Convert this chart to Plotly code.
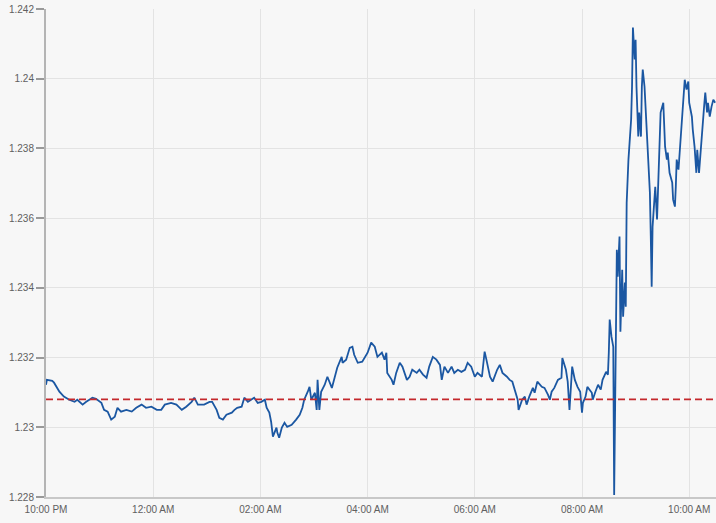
import pandas as pd
import plotly.graph_objects as go

# minutes after 10:00 PM and price readings
minutes = [0, 1, 7, 9, 15, 20, 26, 32, 35, 41, 45, 52, 56, 62, 65, 69, 73, 77, 80, 84,
           90, 96, 101, 107, 112, 118, 124, 129, 133, 140, 146, 152, 157, 163, 166, 170,
           177, 183, 186, 191, 194, 198, 202, 208, 211, 214, 219, 222, 226, 230, 233, 237,
           241, 245, 247, 250, 252, 254, 258, 259, 261, 264, 267, 270, 275, 280, 284, 287,
           289, 293, 295, 297, 301, 303, 304, 306, 308, 312, 315, 320, 323, 326, 331, 332,
           336, 340, 343, 345, 349, 354, 360, 364, 368, 371, 376, 379, 381, 382, 387, 389,
           392, 396, 399, 404, 407, 410, 415, 418, 422, 426, 429, 433, 437, 441, 443, 446,
           450, 454, 457, 461, 465, 469, 472, 476, 480, 483, 488, 491, 493, 497, 500, 505,
           508, 511, 516, 519, 522, 525, 528, 529, 533, 536, 538, 541, 545, 547, 550, 555,
           558, 562, 564, 566, 569, 573, 577, 578, 582, 584, 586, 589, 592, 595, 598, 600,
           601, 604, 606, 611, 612, 615, 618, 621, 623, 627, 629, 630, 631, 633, 635, 636,
           638, 639, 640, 642, 643, 645, 646, 648, 649, 650, 652, 655, 656, 657, 659, 660,
           661, 663, 664, 666, 667, 668, 670, 673, 674, 676, 677, 678, 679, 682, 684, 685,
           687, 688, 691, 692, 693, 695, 696, 698, 701, 702, 704, 705, 706, 708, 711, 713,
           714, 715, 717, 719, 720, 723, 724, 726, 728, 729, 731, 733, 735, 737, 738, 740,
           741, 743, 745, 747, 749]
prices = [1.23122, 1.23136, 1.23133, 1.23128, 1.23102, 1.23088, 1.23079, 1.23073, 1.23079, 1.23065,
          1.23073, 1.23085, 1.23082, 1.23070, 1.23050, 1.23045, 1.23022, 1.23030, 1.23056, 1.23045,
          1.23050, 1.23045, 1.23056, 1.23065, 1.23056, 1.23059, 1.23050, 1.23050, 1.23065, 1.23070,
          1.23065, 1.23050, 1.23059, 1.23073, 1.23085, 1.23065,
          1.23065, 1.23073, 1.23073, 1.23050, 1.23027, 1.23022, 1.23036, 1.23042, 1.23050, 1.23056,
          1.23059, 1.23085, 1.23073, 1.23079, 1.23085, 1.23070,
          1.23073, 1.23079, 1.23056, 1.23042, 1.23016, 1.22973, 1.22999, 1.22984, 1.22970, 1.22999,
          1.23013, 1.23001, 1.23007, 1.23022, 1.23036, 1.23056,
          1.23079, 1.23102, 1.23116, 1.23079, 1.23099, 1.23050, 1.23136, 1.23050, 1.23102, 1.23122,
          1.23145, 1.23113, 1.23145, 1.23171, 1.23202, 1.23185,
          1.23194, 1.23228, 1.23231, 1.23208, 1.23185, 1.23188, 1.23214, 1.23243, 1.23231, 1.23202,
          1.23214, 1.23194, 1.23214, 1.23156, 1.23136, 1.23122,
          1.23156, 1.23185, 1.23174, 1.23136, 1.23145, 1.23165, 1.23156, 1.23165, 1.23151, 1.23142,
          1.23174, 1.23202, 1.23194, 1.23179, 1.23136, 1.23174,
          1.23156, 1.23174, 1.23156, 1.23165, 1.23159, 1.23165, 1.23185, 1.23174, 1.23145, 1.23156,
          1.23145, 1.23217, 1.23194, 1.23145, 1.23131, 1.23165,
          1.23179, 1.23156, 1.23145, 1.23136, 1.23131, 1.23102, 1.23079, 1.23050, 1.23079, 1.23088,
          1.23065, 1.23088, 1.23113, 1.23099, 1.23131, 1.23116,
          1.23113, 1.23093, 1.23079, 1.23102, 1.23113, 1.23136, 1.23142, 1.23199, 1.23165, 1.23131,
          1.23050, 1.23174, 1.23136, 1.23116, 1.23102, 1.23042,
          1.23070, 1.23088, 1.23116, 1.23099, 1.23079, 1.23102, 1.23122, 1.23108, 1.23136, 1.23159,
          1.23151, 1.23214, 1.23309, 1.23260, 1.23231, 1.22806,
          1.23251, 1.23509, 1.23432, 1.23547, 1.23274, 1.23452, 1.23317, 1.23415, 1.23346, 1.23644,
          1.23768, 1.23883, 1.23977, 1.24147, 1.24055, 1.24112,
          1.23977, 1.23834, 1.23903, 1.23834, 1.23977, 1.24026, 1.23977, 1.23834, 1.23788, 1.23673,
          1.23547, 1.23403, 1.23575, 1.23690, 1.23596, 1.23682,
          1.23834, 1.23903, 1.23931, 1.23862, 1.23805, 1.23768, 1.23788, 1.23730, 1.23702, 1.23653,
          1.23633, 1.23690, 1.23768, 1.23739, 1.23854, 1.23903,
          1.23940, 1.23997, 1.23969, 1.23992, 1.23931, 1.23891, 1.23854, 1.23805, 1.23730, 1.23796,
          1.23730, 1.23805, 1.23862, 1.23931, 1.23960, 1.23903,
          1.23931, 1.23891, 1.23920, 1.23940, 1.23931]

reference_level = 1.2308

y_tick_values = [1.228, 1.23, 1.232, 1.234, 1.236, 1.238, 1.24, 1.242]
y_tick_labels = ["1.228", "1.23", "1.232", "1.234", "1.236", "1.238", "1.24", "1.242"]
x_tick_minutes = [0, 120, 240, 360, 480, 600, 720]
x_tick_labels = ["10:00 PM", "12:00 AM", "02:00 AM", "04:00 AM", "06:00 AM", "08:00 AM", "10:00 AM"]
x_end_minutes = 750

base = pd.Timestamp("2021-03-01 22:00")
times = [base + pd.Timedelta(minutes=m) for m in minutes]
x_ticks = [base + pd.Timedelta(minutes=m) for m in x_tick_minutes]
x_end = base + pd.Timedelta(minutes=x_end_minutes)

fig = go.Figure()
fig.add_trace(go.Scatter(x=times, y=prices, mode="lines",
                         line=dict(color="#1b57a2", width=1.8), hoverinfo="skip"))
fig.add_trace(go.Scatter(x=[base, x_end], y=[reference_level, reference_level], mode="lines",
                         line=dict(color="#c4282c", width=1.8, dash="7px,4px"), hoverinfo="skip"))

fig.update_layout(
    width=716, height=523,
    margin=dict(l=46, r=0, t=9, b=26, autoexpand=False),
    paper_bgcolor="#f7f7f7", plot_bgcolor="#f7f7f7",
    showlegend=False,
    font=dict(family="Liberation Sans, Arial, sans-serif", size=10, color="#606060"),
)
fig.update_xaxes(
    range=[base, x_end], tickvals=x_ticks, ticktext=x_tick_labels, automargin=False,
    showgrid=True, gridcolor="#e3e3e3", gridwidth=1,
    showline=True, linecolor="#c8c8c8", linewidth=2,
    ticks="outside", ticklen=2, tickcolor="rgba(0,0,0,0)", zeroline=False,
)
fig.update_yaxes(
    range=[1.228, 1.242], tickvals=y_tick_values, ticktext=y_tick_labels, automargin=False,
    showgrid=True, gridcolor="#e3e3e3", gridwidth=1,
    showline=True, linecolor="#b4b4b4", linewidth=2,
    ticks="outside", ticklen=8, tickwidth=1.5, tickcolor="#999999", zeroline=False,
)

fig.write_html(
    "out.html",
    config={"displayModeBar": False},
    post_script="document.body.style.margin='0';document.body.style.overflow='hidden';"
                "document.body.style.background='#f7f7f7';",
)
